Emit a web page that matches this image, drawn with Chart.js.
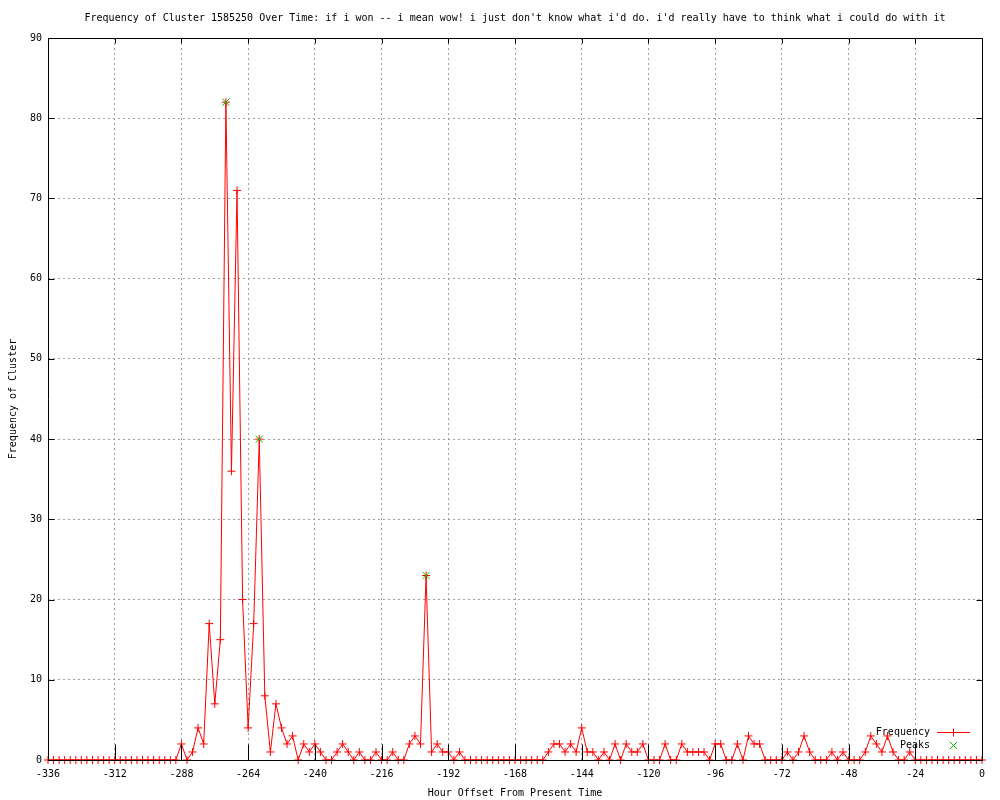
<!DOCTYPE html>
<html>
<head>
<meta charset="utf-8">
<script src="https://cdn.jsdelivr.net/npm/chart.js@4.4.0/dist/chart.umd.min.js"></script>
<style>
html,body{margin:0;padding:0;background:#ffffff;}
#wrap{width:1000px;height:800px;}
</style>
</head>
<body>
<div id="wrap"><canvas id="c" width="1000" height="800"></canvas></div>
<script>
const titleText = "Frequency of Cluster 1585250 Over Time: if i won -- i mean wow! i just don't know what i'd do. i'd really have to think what i could do with it";
const xTitle = "Hour Offset From Present Time";
const yTitle = "Frequency of Cluster";
const seriesName = "Frequency";
const peaksName = "Peaks";

const hours = [
  -336,-334,-332,-330,-328,-326,-324,-322,-320,-318,-316,-314,
  -312,-310,-308,-306,-304,-302,-300,-298,-296,-294,-292,-290,
  -288,-286,-284,-282,-280,-278,-276,-274,-272,-270,-268,-266,
  -264,-262,-260,-258,-256,-254,-252,-250,-248,-246,-244,-242,
  -240,-238,-236,-234,-232,-230,-228,-226,-224,-222,-220,-218,
  -216,-214,-212,-210,-208,-206,-204,-202,-200,-198,-196,-194,
  -192,-190,-188,-186,-184,-182,-180,-178,-176,-174,-172,-170,
  -168,-166,-164,-162,-160,-158,-156,-154,-152,-150,-148,-146,
  -144,-142,-140,-138,-136,-134,-132,-130,-128,-126,-124,-122,
  -120,-118,-116,-114,-112,-110,-108,-106,-104,-102,-100,-98,
  -96,-94,-92,-90,-88,-86,-84,-82,-80,-78,-76,-74,
  -72,-70,-68,-66,-64,-62,-60,-58,-56,-54,-52,-50,
  -48,-46,-44,-42,-40,-38,-36,-34,-32,-30,-28,-26,
  -24,-22,-20,-18,-16,-14,-12,-10,-8,-6,-4,-2,
  0
];
const frequency = [
  0,0,0,0,0,0,0,0,0,0,0,0,
  0,0,0,0,0,0,0,0,0,0,0,0,
  2,0,1,4,2,17,7,15,82,36,71,20,
  4,17,40,8,1,7,4,2,3,0,2,1,
  2,1,0,0,1,2,1,0,1,0,0,1,
  0,0,1,0,0,2,3,2,23,1,2,1,
  1,0,1,0,0,0,0,0,0,0,0,0,
  0,0,0,0,0,0,1,2,2,1,2,1,
  4,1,1,0,1,0,2,0,2,1,1,2,
  0,0,0,2,0,0,2,1,1,1,1,0,
  2,2,0,0,2,0,3,2,2,0,0,0,
  0,1,0,1,3,1,0,0,0,1,0,1,
  0,0,0,1,3,2,1,3,1,0,0,1,
  0,0,0,0,0,0,0,0,0,0,0,0,
  0
];
const peakHours = [-272, -260, -200];
const peakValues = [82, 40, 23];
const xTicks = [-336,-312,-288,-264,-240,-216,-192,-168,-144,-120,-96,-72,-48,-24,0];
const yTicks = [0,10,20,30,40,50,60,70,80,90];

const FONT = "'DejaVu Sans Mono', 'Liberation Mono', monospace";
const RED = '#ff0000';
const GREEN = '#00c000';

const framePlugin = {
  id: 'frame',
  afterDatasetsDraw(chart) {
    const {ctx, chartArea: a, scales: {x, y}} = chart;
    const L = Math.round(a.left) + 0.5, R = Math.round(a.right) + 0.5;
    const T = Math.round(a.top) + 0.5, B = Math.round(a.bottom) + 0.5;
    ctx.save();
    ctx.strokeStyle = '#000';
    ctx.lineWidth = 1;
    ctx.beginPath();
    xTicks.forEach(v => {
      const px = Math.round(x.getPixelForValue(v)) + 0.5;
      ctx.moveTo(px, B); ctx.lineTo(px, B - 16);
      ctx.moveTo(px, T); ctx.lineTo(px, T + 5);
    });
    yTicks.forEach(v => {
      const py = Math.round(y.getPixelForValue(v)) + 0.5;
      ctx.moveTo(L, py); ctx.lineTo(L + 6, py);
      ctx.moveTo(R, py); ctx.lineTo(R - 6, py);
    });
    ctx.stroke();
    ctx.beginPath();
    ctx.rect(L, T, R - L, B - T);
    ctx.stroke();
    ctx.restore();
  }
};

const legendPlugin = {
  id: 'gpLegend',
  afterDraw(chart) {
    const {ctx, chartArea: a} = chart;
    const textRight = a.right - 52;
    const y1 = a.bottom - 27.5, y2 = a.bottom - 14.5;
    const sx1 = a.right - 45, sx2 = a.right - 12, mx = a.right - 28.5;
    ctx.save();
    ctx.font = '10px ' + FONT;
    ctx.fillStyle = '#000';
    ctx.textAlign = 'right';
    ctx.textBaseline = 'middle';
    ctx.fillText(seriesName, textRight, y1);
    ctx.fillText(peaksName, textRight, y2);
    ctx.lineWidth = 1;
    ctx.strokeStyle = RED;
    ctx.beginPath();
    ctx.moveTo(sx1, y1); ctx.lineTo(sx2, y1);
    ctx.moveTo(mx, y1 - 4); ctx.lineTo(mx, y1 + 4);
    ctx.stroke();
    ctx.strokeStyle = GREEN;
    ctx.beginPath();
    ctx.moveTo(mx - 3.5, y2 - 3.5); ctx.lineTo(mx + 3.5, y2 + 3.5);
    ctx.moveTo(mx + 3.5, y2 - 3.5); ctx.lineTo(mx - 3.5, y2 + 3.5);
    ctx.stroke();
    ctx.restore();
  }
};

new Chart(document.getElementById('c'), {
  type: 'line',
  data: {
    datasets: [
      {
        label: seriesName,
        data: hours.map((h, i) => ({x: h, y: frequency[i]})),
        borderColor: RED,
        backgroundColor: RED,
        borderWidth: 1,
        pointStyle: 'cross',
        pointRadius: 4,
        pointBorderColor: RED,
        pointBorderWidth: 1,
        pointHoverRadius: 4,
        tension: 0,
        fill: false,
        clip: false,
        order: 1
      },
      {
        label: peaksName,
        data: peakHours.map((h, i) => ({x: h, y: peakValues[i]})),
        showLine: false,
        borderColor: GREEN,
        backgroundColor: GREEN,
        pointStyle: 'crossRot',
        pointRadius: 5,
        pointBorderColor: GREEN,
        pointBorderWidth: 1,
        clip: false,
        order: 0
      }
    ]
  },
  options: {
    responsive: false,
    animation: false,
    events: [],
    layout: {padding: {left: 0, right: 18, top: 0, bottom: 0}},
    plugins: {
      legend: {display: false},
      tooltip: {enabled: false},
      title: {
        display: true,
        text: titleText,
        fullSize: false,
        color: '#000',
        font: {family: FONT, size: 10, weight: 'normal', lineHeight: 1.2},
        padding: {top: 12, bottom: 14}
      }
    },
    scales: {
      x: {
        type: 'linear',
        min: -336,
        max: 0,
        afterBuildTicks(scale) { scale.ticks = xTicks.map(v => ({value: v})); },
        afterFit(scale) { scale.height = 40; },
        grid: {color: '#a0a0a0', lineWidth: 1, drawTicks: false},
        border: {display: false, dash: [2, 3]},
        ticks: {
          color: '#000',
          font: {family: FONT, size: 10},
          padding: 8,
          maxRotation: 0,
          autoSkip: false,
          callback: v => String(v)
        },
        title: {
          display: true,
          text: xTitle,
          color: '#000',
          font: {family: FONT, size: 10, lineHeight: 1.2},
          padding: {top: 0, bottom: 1}
        }
      },
      y: {
        type: 'linear',
        min: 0,
        max: 90,
        afterBuildTicks(scale) { scale.ticks = yTicks.map(v => ({value: v})); },
        afterFit(scale) { scale.width = 48; },
        grid: {color: '#a0a0a0', lineWidth: 1, drawTicks: false},
        border: {display: false, dash: [2, 3]},
        ticks: {
          color: '#000',
          font: {family: FONT, size: 10},
          padding: 6,
          autoSkip: false,
          callback: v => String(v)
        },
        title: {
          display: true,
          text: yTitle,
          color: '#000',
          font: {family: FONT, size: 10, lineHeight: 1.2},
          padding: {top: 7, bottom: 0}
        }
      }
    }
  },
  plugins: [framePlugin, legendPlugin]
});
</script>
</body>
</html>
